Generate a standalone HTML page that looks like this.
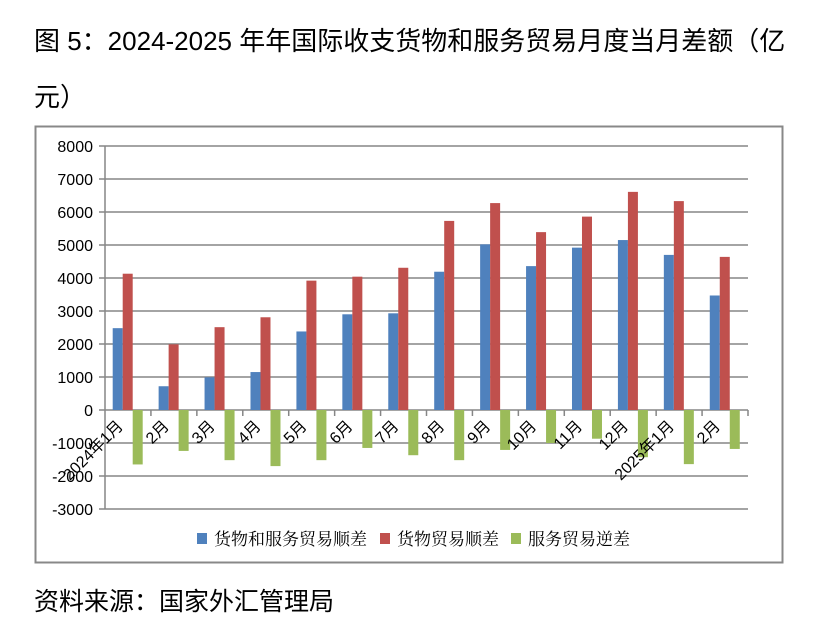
<!DOCTYPE html>
<html><head><meta charset="utf-8"><style>
body{margin:0;background:#fff;width:823px;height:642px;overflow:hidden;font-family:"Liberation Sans","Noto Sans CJK SC",sans-serif}
.t{position:absolute;left:34px;font-size:26px;color:#000;white-space:nowrap}
</style></head><body>
<div class="t" style="top:21px">图 5：2024-2025 年年国际收支货物和服务贸易月度当月差额（亿</div>
<div class="t" style="top:77px">元）</div>
<div class="t" style="top:582px;font-size:25px">资料来源：国家外汇管理局</div>
<svg width="823" height="642" style="position:absolute;left:0;top:0" font-family="Liberation Sans, Noto Sans CJK SC, sans-serif">
<rect x="35.5" y="126.5" width="747" height="436" fill="none" stroke="#888" stroke-width="2"/>
<g id="g"></g>
</svg>
<script>
const g=document.getElementById('g');let s='';
const L=105,R=748,z=410,k=33/1000,w=(R-L)/14;
for(let v=-3000;v<=8000;v+=1000){const y=z-v*k;
s+=`<line x1="${L-6}" x2="${R}" y1="${y}" y2="${y}" stroke="#868686" stroke-width="1.5"/>`;
s+=`<text x="93" y="${y+6}" text-anchor="end" font-size="16">${v}</text>`;}
s+=`<line x1="${L}" x2="${L}" y1="146" y2="509" stroke="#868686" stroke-width="1.5"/>`;
const d=[[2480,4130,-1650],[720,1990,-1240],[990,2510,-1520],[1150,2810,-1700],[2380,3920,-1520],[2900,4040,-1150],[2930,4310,-1370],[4190,5730,-1520],[5020,6270,-1210],[4360,5390,-1000],[4920,5860,-870],[5150,6610,-1430],[4700,6330,-1640],[3470,4640,-1180]];
const lb=['2024年1月','2月','3月','4月','5月','6月','7月','8月','9月','10月','11月','12月','2025年1月','2月'];
const c=['#4f81bd','#c0504d','#9bbb59'];
d.forEach((r,i)=>{const x0=L+i*w;
s+=`<line x1="${x0+w}" x2="${x0+w}" y1="${z}" y2="${z+6}" stroke="#868686" stroke-width="1.5"/>`;
r.forEach((v,j)=>{const x=x0+7.7+j*10;const y=v>0?z-v*k:z;s+=`<rect x="${x}" y="${y}" width="10" height="${Math.abs(v)*k}" fill="${c[j]}"/>`;});
const cx=x0+w/2-4;s+=`<text transform="translate(${cx},${z+17}) rotate(-45)" text-anchor="end" font-size="16">${lb[i]}</text>`;});
const lg=[[197,'货物和服务贸易顺差'],[380,'货物贸易顺差'],[511,'服务贸易逆差']];
lg.forEach((e,j)=>{s+=`<rect x="${e[0]}" y="533" width="10" height="11" fill="${c[j]}"/><text x="${e[0]+17}" y="545" font-size="17" font-family="Noto Serif CJK SC, serif">${e[1]}</text>`;});
g.innerHTML=s;
</script>
</body></html>
